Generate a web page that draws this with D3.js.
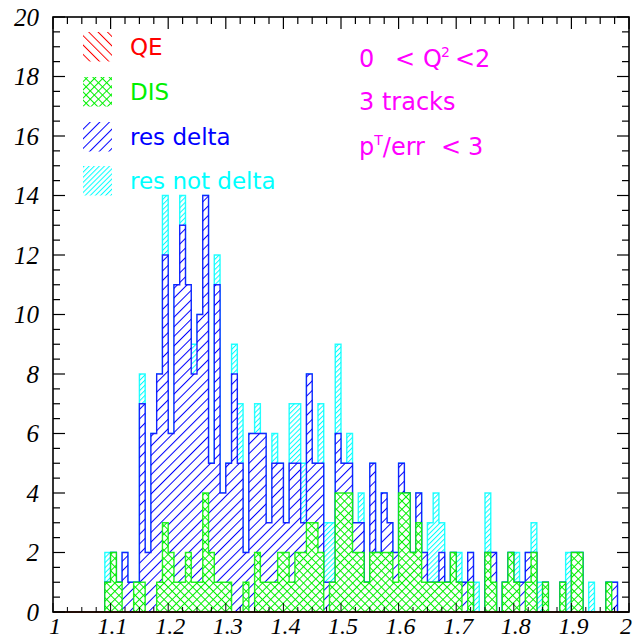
<!DOCTYPE html>
<html>
<head>
<meta charset="utf-8">
<script src="https://cdn.jsdelivr.net/npm/d3@7/dist/d3.min.js"></script>
<style>
  html, body { margin: 0; padding: 0; background: #fff; }
  svg { display: block; }
</style>
</head>
<body>
<svg id="chart" width="633" height="641"></svg>
<script>
// Histogram binning: 100 bins of width 0.01 between 1 and 2
const xMin = 1.0;
const xMax = 2.0;
const binWidth = 0.01;

// Counts per bin for each sample (bins 1.00 ... 1.99)
const qe = [
  0,0,0,0,0,0,0,0,0,0,
  0,0,0,0,0,0,0,0,0,0,
  0,0,0,0,0,0,0,0,0,0,
  0,0,0,0,0,0,0,0,0,0,
  0,0,0,0,0,0,0,0,0,0,
  0,0,0,0,0,0,0,0,0,0,
  0,0,0,0,0,0,0,0,0,0,
  0,0,0,0,0,0,0,0,0,0,
  0,0,0,0,0,0,0,0,0,0,
  0,0,0,0,0,0,0,0,0,0
];
const dis = [
  0,0,0,0,0,0,0,0,0,1,
  2,1,0,0,1,1,0,0,1,3,
  2,1,1,2,1,1,4,2,1,1,
  1,0,0,1,0,2,1,1,1,2,
  2,1,2,2,3,3,2,0,1,4,
  4,4,2,2,1,2,2,2,2,1,
  4,4,2,3,1,1,1,1,1,2,
  1,0,1,0,0,2,1,0,1,2,
  1,0,1,2,0,1,0,0,1,0,
  2,2,0,0,0,0,1,0,0,0
];
const resDelta = [
  0,0,0,0,0,0,0,0,0,0,
  0,0,2,1,0,6,2,6,7,9,
  4,10,12,9,7,9,10,3,10,3,
  4,8,5,1,6,4,5,2,4,3,
  1,4,3,1,5,2,3,1,0,2,
  1,1,1,1,0,3,0,2,1,1,
  1,0,0,1,1,0,0,1,0,0,
  0,1,1,0,0,0,1,0,0,0,
  0,1,1,0,0,0,0,0,0,0,
  0,0,0,0,0,0,0,1,0,0
];
const resNotDelta = [
  0,0,0,0,0,0,0,0,0,1,
  0,0,0,0,0,1,0,0,0,2,
  0,0,1,0,1,0,0,0,1,0,
  0,1,2,0,0,1,0,0,1,0,
  0,2,2,2,0,0,2,2,2,3,
  0,1,0,1,0,0,0,0,0,0,
  0,0,0,0,0,2,3,1,0,0,
  1,0,0,1,0,2,0,0,0,0,
  1,0,0,1,1,0,0,0,0,2,
  0,0,0,1,0,0,0,0,0,0
];

// Axis ticks and labels
const xTicks = [1, 1.1, 1.2, 1.3, 1.4, 1.5, 1.6, 1.7, 1.8, 1.9, 2];
const xTickLabels = ["1", "1.1", "1.2", "1.3", "1.4", "1.5", "1.6", "1.7", "1.8", "1.9", "2"];
const yTicks = [0, 2, 4, 6, 8, 10, 12, 14, 16, 18, 20];
const yTickLabels = ["0", "2", "4", "6", "8", "10", "12", "14", "16", "18", "20"];

// Legend entries
const legendLabels = ["QE", "DIS", "res delta", "res not delta"];
const legendColors = ["#ff0000", "#00f000", "#0000ff", "#00ffff"];
const legendPatterns = ["hatchQE", "hatchDIS", "hatchDelta", "hatchNotDelta"];

const svg = d3.select("#chart");
const W = 633;
const plot = { left: 53, right: 629, top: 17, bottom: 612 };

const x = d3.scaleLinear().domain([xMin, xMax]).range([plot.left, plot.right]);
const y = d3.scaleLinear().domain([0, 20]).range([plot.bottom, plot.top]);

// Hatch patterns
const defs = svg.append("defs");
function lineHatch(id, color, spacing, angle, cross) {
  const p = defs.append("pattern")
    .attr("id", id)
    .attr("patternUnits", "userSpaceOnUse")
    .attr("width", spacing)
    .attr("height", spacing)
    .attr("patternTransform", `rotate(${angle})`);
  p.append("line")
    .attr("x1", 0.5).attr("y1", -1).attr("x2", 0.5).attr("y2", spacing + 1)
    .attr("stroke", color).attr("stroke-width", 1);
  if (cross) {
    p.append("line")
      .attr("x1", -1).attr("y1", 0.5).attr("x2", spacing + 1).attr("y2", 0.5)
      .attr("stroke", color).attr("stroke-width", 1);
  }
}
lineHatch("hatchQE", "#ff0000", 6.6, -45, false);
lineHatch("hatchDIS", "#00f000", 5.8, 45, true);
lineHatch("hatchDelta", "#0000ff", 6.8, 45, false);
lineHatch("hatchNotDelta", "#00ffff", 3.6, 45, false);

// Cumulative stacks: each drawn histogram includes all samples below it
const stackQE = qe.slice();
const stackDIS = stackQE.map((v, i) => v + dis[i]);
const stackDelta = stackDIS.map((v, i) => v + resDelta[i]);
const stackAll = stackDelta.map((v, i) => v + resNotDelta[i]);

function histPath(vals) {
  let d = `M${x(xMin)},${y(0)}`;
  vals.forEach((v, i) => {
    const lo = xMin + i * binWidth;
    const hi = lo + binWidth;
    d += `L${x(lo)},${y(v)}L${x(hi)},${y(v)}`;
  });
  d += `L${x(xMax)},${y(0)}Z`;
  return d;
}

const layers = [
  { vals: stackAll, color: "#00ffff", pattern: "hatchNotDelta" },
  { vals: stackDelta, color: "#0000ff", pattern: "hatchDelta" },
  { vals: stackDIS, color: "#00f000", pattern: "hatchDIS" },
  { vals: stackQE, color: "#ff0000", pattern: "hatchQE" }
];

const gHist = svg.append("g");
layers.forEach(l => {
  const d = histPath(l.vals);
  gHist.append("path").attr("d", d).attr("fill", "#fff").attr("stroke", "none");
  gHist.append("path").attr("d", d)
    .attr("fill", `url(#${l.pattern})`)
    .attr("stroke", l.color)
    .attr("stroke-width", 1.4)
    .attr("stroke-opacity", 0.85)
    .attr("stroke-linejoin", "miter");
});

// Frame and ticks
const gAxis = svg.append("g");
gAxis.append("rect")
  .attr("x", plot.left).attr("y", plot.top)
  .attr("width", plot.right - plot.left).attr("height", plot.bottom - plot.top)
  .attr("fill", "none").attr("stroke", "#000").attr("stroke-width", 1.6);

const xMinor = d3.range(xMin, xMax + 1e-9, 0.025);
const yMinor = d3.range(0, 20 + 1e-9, 0.5);
const majLen = 12, minLen = 7;

xMinor.forEach(v => {
  const major = xTicks.some(t => Math.abs(t - v) < 1e-6);
  const len = major ? majLen : minLen;
  const px = x(v);
  gAxis.append("line").attr("x1", px).attr("x2", px)
    .attr("y1", plot.top).attr("y2", plot.top + len)
    .attr("stroke", "#000").attr("stroke-width", 1.2);
  gAxis.append("line").attr("x1", px).attr("x2", px)
    .attr("y1", plot.bottom).attr("y2", plot.bottom - (major ? 9 : 5))
    .attr("stroke", "#000").attr("stroke-width", 1.0);
});
yMinor.forEach(v => {
  const major = yTicks.some(t => Math.abs(t - v) < 1e-6);
  const len = major ? majLen : minLen;
  const py = y(v);
  gAxis.append("line").attr("x1", plot.left).attr("x2", plot.left + len)
    .attr("y1", py).attr("y2", py)
    .attr("stroke", "#000").attr("stroke-width", 1.2);
  gAxis.append("line").attr("x1", plot.right).attr("x2", plot.right - len)
    .attr("y1", py).attr("y2", py)
    .attr("stroke", "#000").attr("stroke-width", 1.2);
});

// Tick labels (the last one is kept inside the page edge)
const labelFont = "'Liberation Serif', 'Times New Roman', serif";
xTicks.forEach((t, i) => {
  const last = i === xTicks.length - 1;
  svg.append("text")
    .attr("x", last ? W - 1 : x(t) + 2).attr("y", 634)
    .attr("text-anchor", last ? "end" : "middle")
    .attr("font-family", labelFont).attr("font-style", "italic")
    .attr("font-size", 24).attr("fill", "#000")
    .text(xTickLabels[i]);
});
yTicks.forEach((t, i) => {
  svg.append("text")
    .attr("x", 39).attr("y", y(t) + 8.5)
    .attr("text-anchor", "end")
    .attr("font-family", labelFont).attr("font-style", "italic")
    .attr("font-size", 25).attr("fill", "#000")
    .text(yTickLabels[i]);
});

// Legend
const sansFont = "'DejaVu Sans', sans-serif";
const legendTop = [32, 77, 122, 166];
legendLabels.forEach((lab, i) => {
  svg.append("rect")
    .attr("x", 83).attr("y", legendTop[i])
    .attr("width", 29).attr("height", 29.5)
    .attr("fill", `url(#${legendPatterns[i]})`);
  svg.append("text")
    .attr("x", 130).attr("y", legendTop[i] + 23)
    .attr("font-family", sansFont).attr("font-size", 23)
    .attr("fill", legendColors[i])
    .text(lab);
});

// Selection cuts
const cutColor = "#ff00ff";
const t1 = svg.append("text").attr("font-family", sansFont).attr("font-size", 24).attr("fill", cutColor).attr("y", 67);
t1.append("tspan").attr("x", 359).text("0");
t1.append("tspan").attr("x", 395).text("<");
t1.append("tspan").attr("x", 423).text("Q");
t1.append("tspan").attr("x", 441).attr("dy", -10).attr("font-size", 14).text("2");
t1.append("tspan").attr("x", 455).attr("dy", 10).text("<2");

svg.append("text").attr("x", 359).attr("y", 110)
  .attr("font-family", sansFont).attr("font-size", 24).attr("fill", cutColor)
  .text("3 tracks");

const t3 = svg.append("text").attr("font-family", sansFont).attr("font-size", 24).attr("fill", cutColor).attr("y", 155);
t3.append("tspan").attr("x", 359).text("p");
t3.append("tspan").attr("dy", -10).attr("font-size", 14).text("T");
t3.append("tspan").attr("dy", 10).text("/err");
t3.append("tspan").attr("x", 441).text("<");
t3.append("tspan").attr("x", 468).text("3");
</script>
</body>
</html>
